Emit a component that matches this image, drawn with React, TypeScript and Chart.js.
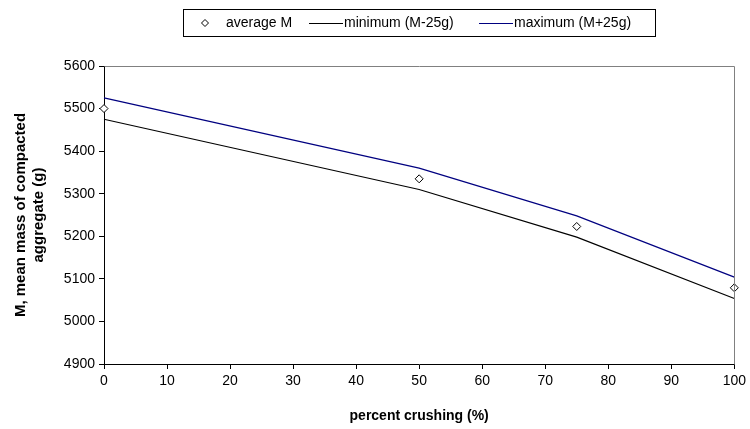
import React, { useEffect, useRef } from "react";
import { Chart, registerables } from "chart.js";

Chart.register(...registerables);

const crushing = [0, 50, 75, 100];
const averageM = [5500, 5335, 5223, 5079];
const minimumM = [5475, 5310, 5198, 5054];
const maximumM = [5525, 5360, 5248, 5104];
const seriesLabels = ["average M", "minimum (M-25g)", "maximum (M+25g)"];

const FONT = "'Liberation Sans', Arial, sans-serif";

const frameAndLegend = {
  id: "frameAndLegend",
  afterDraw(chart: any) {
    const ctx = chart.ctx;
    const a = chart.chartArea;
    ctx.save();
    ctx.strokeStyle = "#808080";
    ctx.lineWidth = 1;
    ctx.beginPath();
    ctx.moveTo(Math.round(a.left) + 0.5, Math.round(a.top) + 0.5);
    ctx.lineTo(Math.round(a.right) + 0.5, Math.round(a.top) + 0.5);
    ctx.lineTo(Math.round(a.right) + 0.5, Math.round(a.bottom) + 0.5);
    ctx.stroke();

    const bx = 183.5, by = 9.5, bw = 472, bh = 27;
    ctx.strokeStyle = "#000";
    ctx.strokeRect(bx, by, bw, bh);
    const cy = by + bh / 2;
    ctx.font = `14px ${FONT}`;
    ctx.textBaseline = "middle";
    ctx.textAlign = "left";
    const dx = 205;
    ctx.beginPath();
    ctx.moveTo(dx, cy - 3.5);
    ctx.lineTo(dx + 3.5, cy);
    ctx.lineTo(dx, cy + 3.5);
    ctx.lineTo(dx - 3.5, cy);
    ctx.closePath();
    ctx.fillStyle = "#fff";
    ctx.fill();
    ctx.strokeStyle = "#000";
    ctx.stroke();
    ctx.fillStyle = "#000";
    ctx.fillText(seriesLabels[0], 226, cy + 0.5);
    ctx.beginPath();
    ctx.moveTo(309, Math.round(cy) + 0.5);
    ctx.lineTo(343, Math.round(cy) + 0.5);
    ctx.strokeStyle = "#000";
    ctx.stroke();
    ctx.fillText(seriesLabels[1], 344, cy + 0.5);
    ctx.beginPath();
    ctx.moveTo(479, Math.round(cy) + 0.5);
    ctx.lineTo(513, Math.round(cy) + 0.5);
    ctx.strokeStyle = "#000080";
    ctx.stroke();
    ctx.fillText(seriesLabels[2], 514, cy + 0.5);
    ctx.restore();
  },
};

export default function App() {
  const ref = useRef<HTMLCanvasElement>(null);
  useEffect(() => {
    document.body.style.margin = "0";
    const chart = new Chart(ref.current!, {
      type: "line",
      data: {
        datasets: [
          {
            label: seriesLabels[0],
            data: crushing.map((x, i) => ({ x, y: averageM[i] })),
            showLine: false,
            pointStyle: "rectRot",
            pointRadius: 4,
            pointBackgroundColor: "#fff",
            pointBorderColor: "#000",
            pointBorderWidth: 1,
            clip: false,
          },
          {
            label: seriesLabels[1],
            data: crushing.map((x, i) => ({ x, y: minimumM[i] })),
            borderColor: "#000",
            borderWidth: 1.2,
            pointRadius: 0,
            tension: 0,
            clip: false,
          },
          {
            label: seriesLabels[2],
            data: crushing.map((x, i) => ({ x, y: maximumM[i] })),
            borderColor: "#000080",
            borderWidth: 1.2,
            pointRadius: 0,
            tension: 0,
            clip: false,
          },
        ],
      },
      options: {
        animation: false,
        responsive: false,
        layout: { padding: { top: 66, right: 14, left: 0, bottom: 0 } },
        plugins: { legend: { display: false }, tooltip: { enabled: false } },
        scales: {
          x: {
            type: "linear",
            min: 0,
            max: 100,
            ticks: { stepSize: 10, color: "#000", font: { family: FONT, size: 14 }, padding: 4 },
            grid: { drawOnChartArea: false, drawTicks: true, tickLength: 5, color: "#000" },
            border: { color: "#000", width: 1 },
            title: {
              display: true,
              text: "percent crushing (%)",
              color: "#000",
              font: { family: FONT, size: 14, weight: "bold" },
              padding: { top: 10 },
            },
            afterFit(scale: any) {
              scale.height = 65;
            },
          },
          y: {
            min: 4900,
            max: 5600,
            ticks: {
              stepSize: 100,
              color: "#000",
              font: { family: FONT, size: 14 },
              padding: 4,
              callback: (v: any) => String(v),
            },
            grid: { drawOnChartArea: false, drawTicks: true, tickLength: 5, color: "#000" },
            border: { color: "#000", width: 1 },
            title: {
              display: true,
              text: ["M, mean mass of compacted", "aggregate (g)"],
              color: "#000",
              font: { family: FONT, size: 15, weight: "bold" },
              padding: { top: 12, bottom: 4 },
            },
            afterFit(scale: any) {
              scale.width = 104;
            },
          },
        },
      },
      plugins: [frameAndLegend],
    });
    return () => chart.destroy();
  }, []);
  return (
    <div style={{ width: 750, height: 429 }}>
      <canvas ref={ref} width={750} height={429} />
    </div>
  );
}
